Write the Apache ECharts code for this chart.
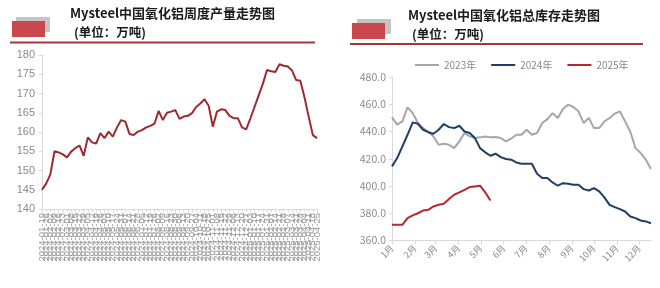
<!DOCTYPE html>
<html>
<head>
<meta charset="utf-8">
<script src="https://cdn.jsdelivr.net/npm/echarts@6/dist/echarts.min.js"></script>
<style>
html,body{margin:0;padding:0;background:#fff;}
#c{width:660px;height:288px;}
</style>
</head>
<body>
<div id="c"></div>
<script>
// ---- Left chart: weekly alumina output (万吨) ----
const weeklyDates = [
  '2024-01-19','2024-01-26','2024-02-02','2024-02-09','2024-02-16','2024-02-23','2024-03-01','2024-03-08','2024-03-15','2024-03-22',
  '2024-03-29','2024-04-05','2024-04-12','2024-04-19','2024-04-26','2024-05-03','2024-05-10','2024-05-17','2024-05-24','2024-05-31',
  '2024-06-07','2024-06-14','2024-06-21','2024-06-28','2024-07-05','2024-07-12','2024-07-19','2024-07-26','2024-08-02','2024-08-09',
  '2024-08-16','2024-08-23','2024-08-30','2024-09-06','2024-09-13','2024-09-20','2024-09-27','2024-10-04','2024-10-11','2024-10-18',
  '2024-10-25','2024-11-01','2024-11-08','2024-11-15','2024-11-22','2024-11-29','2024-12-06','2024-12-13','2024-12-20','2024-12-27',
  '2025-01-03','2025-01-10','2025-01-17','2025-01-24','2025-01-31','2025-02-07','2025-02-14','2025-02-21','2025-02-28','2025-03-07',
  '2025-03-14','2025-03-21','2025-03-28','2025-04-04','2025-04-11','2025-04-18','2025-04-25'
];
const weeklyOutput = [
  145.0,146.6,149.0,155.0,154.7,154.2,153.4,154.9,155.8,156.5,
  153.8,158.6,157.3,157.0,159.7,158.4,160.1,158.8,161.2,163.1,
  162.7,159.5,159.2,160.1,160.5,161.2,161.6,162.2,165.5,163.1,
  165.0,165.3,165.7,163.4,164.0,164.2,164.9,166.5,167.4,168.5,
  166.8,161.4,165.3,165.9,165.7,164.2,163.6,163.6,161.2,160.7,
  163.5,166.5,169.5,172.5,176.1,175.8,175.6,177.6,177.2,177.0,
  176.0,173.5,173.3,169.0,164.0,159.2,158.4
];

// ---- Right chart: total alumina inventory (万吨) ----
const monthLabels = ['1月','2月','3月','4月','5月','6月','7月','8月','9月','10月','11月','12月'];
const monthStartDays = [0,31,59,90,120,151,181,212,243,273,304,334];
const seriesNames = ['2023年','2024年','2025年'];
const inv2023 = [
  450.4,445.0,447.4,457.7,453.5,446.2,442.5,440.0,436.4,430.3,
  431.0,430.3,427.8,432.7,438.9,436.4,435.2,435.7,436.4,435.7,
  436.0,435.2,432.7,434.7,437.6,437.6,441.3,437.6,438.9,446.2,
  449.1,453.5,449.9,456.5,459.7,458.0,454.8,446.2,449.9,442.5,
  442.5,447.4,449.9,453.1,454.8,447.4,440.0,427.8,424.2,419.3,
  412.4
];
const inv2024 = [
  414.4,420.5,429.0,437.6,446.7,445.7,441.3,439.5,438.4,441.3,
  445.5,443.2,442.5,444.2,440.0,438.9,435.2,427.8,424.7,422.2,
  423.7,421.2,419.8,419.3,417.3,416.3,416.3,416.3,409.0,405.8,
  405.8,402.6,400.2,402.1,401.6,400.9,400.9,397.7,396.7,398.5,
  396.0,391.6,386.2,384.5,383.0,381.3,377.6,376.4,374.7,374.0,
  372.7
];
const inv2025 = [
  371.5,371.5,371.5,376.4,378.4,380.0,382.0,382.5,385.0,386.2,
  386.9,390.4,393.6,395.3,397.2,399.2,399.7,400.2,395.3,389.4
];

const DAYS_PER_WEEK = 7;
const toWeekPoints = arr => arr.map((v, i) => [i * DAYS_PER_WEEK, v]);

const chart = echarts.init(document.getElementById('c'), null, {renderer: 'canvas'});
const cjk = '"Noto Sans CJK SC", "Noto Sans", sans-serif';
const grayText = '#8a8a8a';
const axisGray = '#d9d9d9';

function titleBlock(line1, line2, rx, gx, lineX1, lineX2, lineY, tx, ty) {
  return [
    {type: 'rect', shape: {x: gx, y: ty + 4, width: 34, height: 15}, style: {fill: '#c4c4c4'}, z: 1},
    {type: 'rect', shape: {x: rx, y: ty + 8, width: 33, height: 16}, style: {fill: '#c9474d'}, z: 2},
    {type: 'text', x: tx, y: ty, style: {text: line1, font: 'bold 13px ' + cjk, fill: '#1a1a1a', textVerticalAlign: 'middle'}, z: 3},
    {type: 'text', x: tx + 4, y: ty + 19, style: {text: line2, font: 'bold 12.5px ' + cjk, fill: '#1a1a1a', textVerticalAlign: 'middle'}, z: 3},
    {type: 'line', shape: {x1: lineX1, y1: lineY, x2: lineX2, y2: lineY}, style: {stroke: '#a8343a', lineWidth: 2}, z: 3}
  ];
}

const option = {
  backgroundColor: '#ffffff',
  animation: false,
  grid: [
    {left: 42, top: 55, width: 275, height: 154},
    {left: 392, top: 77, width: 259, height: 163.5}
  ],
  legend: {
    data: seriesNames,
    left: 410, top: 55,
    icon: 'rect', itemWidth: 24, itemHeight: 2, itemGap: 15,
    textStyle: {color: grayText, fontSize: 10, fontFamily: cjk}
  },
  xAxis: [
    {
      gridIndex: 0, type: 'category', data: weeklyDates, boundaryGap: false,
      axisLine: {lineStyle: {color: axisGray}},
      axisTick: {show: true, interval: 0, lineStyle: {color: axisGray}, length: 3},
      axisLabel: {interval: 0, rotate: 90, fontSize: 9.5, color: '#999999', margin: 4, fontFamily: '"Liberation Sans", sans-serif'},
      splitLine: {show: false}
    },
    {
      gridIndex: 1, type: 'value', min: 0, max: 350,
      axisLine: {lineStyle: {color: axisGray}},
      axisTick: {show: true, customValues: monthStartDays, lineStyle: {color: axisGray}, length: 4},
      axisLabel: {
        customValues: monthStartDays, rotate: 45, fontSize: 9, color: grayText, fontFamily: cjk, margin: 6,
        formatter: v => monthLabels[monthStartDays.indexOf(v)] || ''
      },
      splitLine: {show: false}
    }
  ],
  yAxis: [
    {
      gridIndex: 0, type: 'value', min: 140, max: 180, interval: 5,
      axisLine: {show: true, lineStyle: {color: axisGray}},
      axisTick: {show: true, lineStyle: {color: axisGray}, length: 3},
      axisLabel: {fontSize: 11, color: grayText, margin: 7, fontFamily: '"Liberation Sans", sans-serif'},
      splitLine: {show: false}
    },
    {
      gridIndex: 1, type: 'value', min: 360, max: 480, interval: 20,
      axisLine: {show: true, lineStyle: {color: axisGray}},
      axisTick: {show: true, lineStyle: {color: axisGray}, length: 3},
      axisLabel: {fontSize: 10.5, color: grayText, margin: 6, fontFamily: cjk, formatter: v => v.toFixed(1)},
      splitLine: {show: false}
    }
  ],
  series: [
    {
      name: '周度产量', type: 'line', xAxisIndex: 0, yAxisIndex: 0, data: weeklyOutput,
      showSymbol: false, symbol: 'none', lineStyle: {color: '#9e2a30', width: 2}, itemStyle: {color: '#9e2a30'}
    },
    {
      name: seriesNames[0], type: 'line', xAxisIndex: 1, yAxisIndex: 1, data: toWeekPoints(inv2023),
      showSymbol: false, symbol: 'none', lineStyle: {color: '#a6a6a6', width: 2}, itemStyle: {color: '#a6a6a6'}
    },
    {
      name: seriesNames[1], type: 'line', xAxisIndex: 1, yAxisIndex: 1, data: toWeekPoints(inv2024),
      showSymbol: false, symbol: 'none', lineStyle: {color: '#1f3f66', width: 2}, itemStyle: {color: '#1f3f66'}
    },
    {
      name: seriesNames[2], type: 'line', xAxisIndex: 1, yAxisIndex: 1, data: toWeekPoints(inv2025),
      showSymbol: false, symbol: 'none', lineStyle: {color: '#b8262f', width: 2}, itemStyle: {color: '#b8262f'}
    }
  ],
  graphic: [].concat(
    titleBlock('Mysteel中国氧化铝周度产量走势图', '(单位：万吨)', 12, 16, 10, 315, 42.5, 70, 13),
    titleBlock('Mysteel中国氧化铝总库存走势图', '(单位：万吨)', 352, 357, 350, 643, 44, 408, 15)
  )
};
chart.setOption(option);
</script>
</body>
</html>
